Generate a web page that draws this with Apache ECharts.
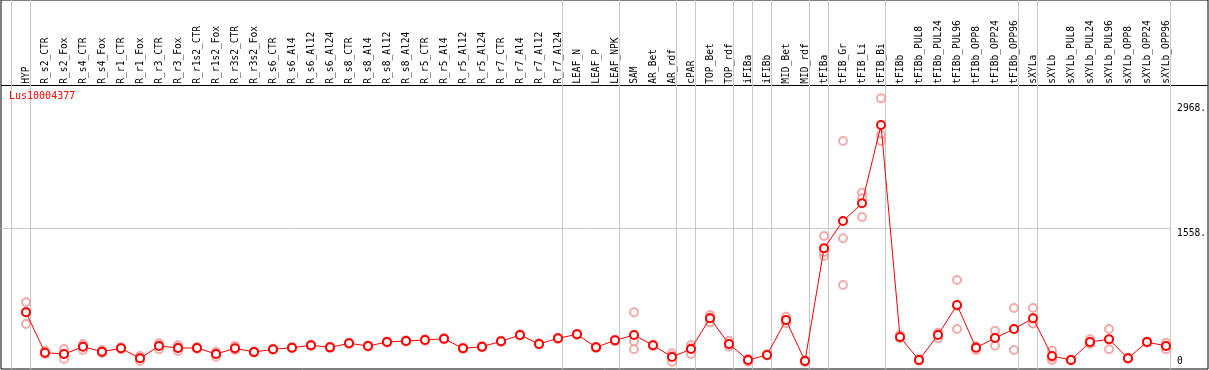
<!DOCTYPE html>
<html>
<head>
<meta charset="utf-8">
<script src="https://cdn.jsdelivr.net/npm/echarts@6/dist/echarts.min.js"></script>
<style>
html,body{margin:0;padding:0;background:#fff;}
#chart{width:1209px;height:370px;}
</style>
</head>
<body>
<div id="chart"></div>
<script>
const categories = ['HYP','R_s2_CTR','R_s2_Fox','R_s4_CTR','R_s4_Fox','R_r1_CTR','R_r1_Fox','R_r3_CTR','R_r3_Fox','R_r1s2_CTR','R_r1s2_Fox','R_r3s2_CTR','R_r3s2_Fox','R_s6_CTR','R_s6_Al4','R_s6_Al12','R_s6_Al24','R_s8_CTR','R_s8_Al4','R_s8_Al12','R_s8_Al24','R_r5_CTR','R_r5_Al4','R_r5_Al12','R_r5_Al24','R_r7_CTR','R_r7_Al4','R_r7_Al12','R_r7_Al24','LEAF_N','LEAF_P','LEAF_NPK','SAM','AR_Bet','AR_rdf','cPAR','TOP_Bet','TOP_rdf','iFIBa','iFIBb','MID_Bet','MID_rdf','tFIBa','tFIB_Gr','tFIB_Li','tFIB_Bi','tFIBb','tFIBb_PUL8','tFIBb_PUL24','tFIBb_PUL96','tFIBb_OPP8','tFIBb_OPP24','tFIBb_OPP96','sXYLa','sXYLb','sXYLb_PUL8','sXYLb_PUL24','sXYLb_PUL96','sXYLb_OPP8','sXYLb_OPP24','sXYLb_OPP96'];

const meanValues = [610,155,140,222,166,204,91,230,208,208,140,204,162,193,211,238,215,261,230,275,287,298,312,204,222,283,354,253,317,362,215,294,354,238,106,196,543,253,72,129,523,61,1332,1640,1840,2723,332,72,354,693,211,320,422,543,117,72,275,306,91,275,230];

const rep1 = [723,177,196,253,185,215,117,260,238,220,166,230,170,200,218,245,222,268,237,282,294,305,319,211,229,290,361,260,324,369,222,301,610,245,148,241,580,290,80,136,561,66,1471,2543,1959,3024,354,80,380,975,222,403,659,659,177,78,306,422,97,282,267];
const rep2 = [478,140,83,185,151,193,61,193,174,196,109,185,155,187,204,230,208,254,223,268,280,291,305,197,215,276,347,246,310,355,208,287,193,231,53,140,497,222,53,122,486,50,1245,1445,1896,2610,320,65,317,422,185,233,185,486,72,66,253,193,85,268,193];
const rep3 = [615,151,140,228,162,204,95,237,212,208,145,197,162,193,211,238,215,261,230,275,287,298,312,204,222,283,354,253,317,362,215,294,283,238,117,207,552,247,83,129,522,67,1290,918,1685,2543,322,72,365,682,226,324,422,484,102,72,266,303,91,275,230];

const groupEnds = ['HYP','R_r7_Al24','LEAF_NPK','AR_rdf','cPAR','TOP_rdf','iFIBa','iFIBb','MID_rdf','tFIBa','tFIB_Bi','tFIBb_OPP96','sXYLa','sXYLb_OPP96'];

const yTickValues = [0, 1558, 2968];
const yTickLabels = ['0', '1558.', '2968.'];
const yGridValues = [1558];
const yMax = 3116;
const geneName = 'Lus10004377';

// layout (pixels)
const W = 1209, H = 370;
const firstX = 26, step = 19;
const plotTop = 90.2, plotBottom = 366.4;
const sepOffset = 0.23;

const sepPositions = [-0.8].concat(groupEnds.map(c => categories.indexOf(c) + sepOffset));
const mono = 'DejaVu Sans Mono';

const chart = echarts.init(document.getElementById('chart'), null, {renderer: 'canvas'});
const lastX = firstX + step * (categories.length - 1);

chart.setOption({
  animation: false,
  backgroundColor: '#fff',
  title: {
    text: geneName, left: 9, top: 91, padding: 0,
    textStyle: {color: '#ff0000', fontFamily: mono, fontSize: 10, fontWeight: 'normal'}
  },
  grid: [
    {left: 1, right: 1, top: 0, bottom: 1, show: true, borderColor: '#000', borderWidth: 1, backgroundColor: 'transparent'},
    {left: 1, right: W - (lastX + 4.7), top: plotTop, bottom: H - plotBottom, show: false},
    {left: firstX, right: W - lastX, top: plotTop, bottom: H - plotBottom, show: false}
  ],
  xAxis: [
    {gridIndex: 0, type: 'value', min: (1 - firstX) / step, max: (W - 1 - firstX) / step,
     axisLine: {show: false}, axisLabel: {show: false},
     axisTick: {show: false, customValues: sepPositions.concat([(lastX + 4.7 - firstX) / step])},
     splitLine: {show: true, lineStyle: {color: '#c8c8c8', width: 1}}},
    {gridIndex: 1, type: 'value', min: 0, max: 1, show: false},
    {gridIndex: 2, type: 'category', data: categories, boundaryGap: false, position: 'top',
     axisLine: {show: false}, axisTick: {show: false}, splitLine: {show: false},
     axisLabel: {interval: 0, rotate: 90, margin: 6.5, color: '#000', fontFamily: mono, fontSize: 9.6}}
  ],
  yAxis: [
    {gridIndex: 0, type: 'value', min: 0, max: H - 1, inverse: true,
     axisLine: {show: false}, axisLabel: {show: false},
     axisTick: {show: false, customValues: [85]},
     splitLine: {show: true, lineStyle: {color: '#000', width: 1}}},
    {gridIndex: 1, type: 'value', min: 0, max: yMax, position: 'right',
     axisLine: {show: false},
     axisTick: {show: false, customValues: yGridValues},
     splitLine: {show: true, lineStyle: {color: '#c8c8c8', width: 1}},
     axisLabel: {customValues: yTickValues, margin: 7, color: '#000', fontFamily: mono, fontSize: 9.6,
       align: 'left', verticalAlign: 'top', verticalAlignMinLabel: 'bottom',
       formatter: v => yTickLabels[yTickValues.indexOf(v)]}},
    {gridIndex: 2, type: 'value', min: 0, max: yMax, show: false}
  ],
  series: [rep1, rep2, rep3].map(r => ({
    type: 'scatter', xAxisIndex: 2, yAxisIndex: 2, data: r,
    symbol: 'emptyCircle', symbolSize: 8, z: 2, silent: true,
    itemStyle: {color: '#f09595', borderWidth: 1.3}
  })).concat([{
    type: 'line', xAxisIndex: 2, yAxisIndex: 2, data: meanValues, z: 5,
    symbol: 'emptyCircle', symbolSize: 8, showSymbol: true,
    lineStyle: {color: '#ff0000', width: 1},
    itemStyle: {color: '#ff0000', borderWidth: 2}
  }])
});
</script>
</body>
</html>
